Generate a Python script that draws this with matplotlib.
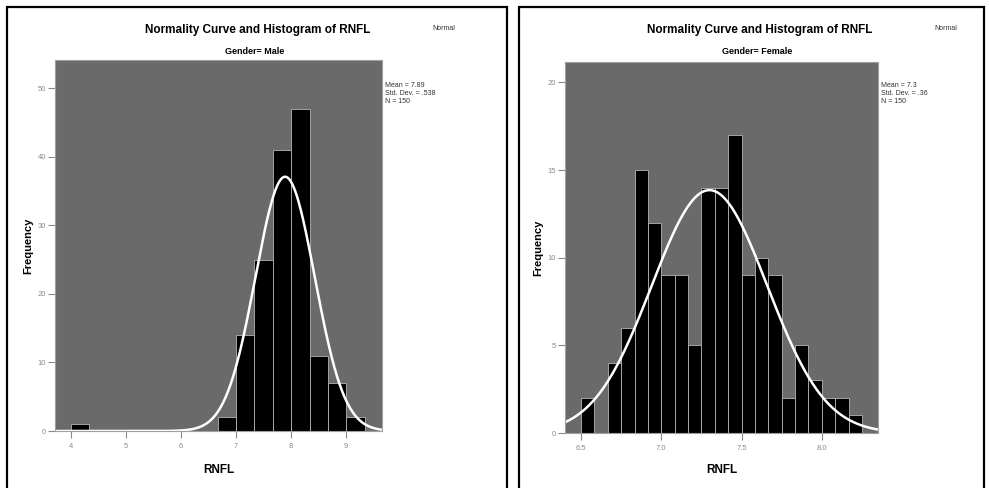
import numpy as np
import matplotlib
matplotlib.use('Agg')
import matplotlib.pyplot as plt
from matplotlib.patches import Rectangle

plt.rcParams['font.family'] = ['Liberation Sans', 'DejaVu Sans']

# Male group: bins of width 1/3 starting at 4.0
male_start = 4.0
male_width = 1 / 3
male_counts = [1, 0, 0, 0, 0, 0, 0, 0, 2, 14, 25, 41, 47, 11, 7, 2]
male_mean, male_sd, male_n = 7.89, 0.538, 150
male_xticks = [4, 5, 6, 7, 8, 9]
male_xticklabels = ['4', '5', '6', '7', '8', '9']
male_yticks = [0, 10, 20, 30, 40, 50]

# Female group: bins of width 1/12 starting at 6.5
female_start = 6.5
female_width = 1 / 12
female_counts = [2, 0, 4, 6, 15, 12, 9, 9, 5, 14, 14, 17, 9, 10, 9, 2, 5, 3, 2, 2, 1]
female_mean, female_sd, female_n = 7.3, 0.36, 150
female_xticks = [6.5, 7.0, 7.5, 8.0]
female_xticklabels = ['6.5', '7.0', '7.5', '8.0']
female_yticks = [0, 5, 10, 15, 20]

BG = '#6a6a6a'
TICK = '#8a8a8a'
W, H = 989, 488

fig = plt.figure(figsize=(9.89, 4.88), dpi=100)


def panel(box, start, width, counts, mean, sd, n, xlim, ylim,
          xticks, xticklabels, yticks, gender, stats, cx, frame, ylab_x):
    # box is (left, top, right, bottom) in pixels
    l, t, r, b = box
    # frame around the panel
    fig.patches.append(Rectangle((frame[0] / W, -0.05), (frame[1] - frame[0]) / W,
                                 1.05 - 7 / H, transform=fig.transFigure,
                                 fill=False, ec='black', lw=1.6, clip_on=False))
    ax = fig.add_axes([l / W, 1 - b / H, (r - l) / W, (b - t) / H])
    ax.set_facecolor(BG)
    counts = np.array(counts)
    lefts = start + width * np.arange(len(counts))
    keep = counts > 0
    ax.bar(lefts[keep], counts[keep], width=width, align='edge',
           color='black', edgecolor='#b4b4b4', linewidth=0.6)
    xs = np.linspace(xlim[0], xlim[1], 400)
    ys = n * width * np.exp(-0.5 * ((xs - mean) / sd) ** 2) / (sd * np.sqrt(2 * np.pi))
    ax.plot(xs, ys, color='white', lw=1.8)
    ax.set_xlim(xlim)
    ax.set_ylim(ylim)
    ax.set_xticks(xticks)
    ax.set_xticklabels(xticklabels)
    ax.set_yticks(yticks)
    ax.tick_params(colors=TICK, labelsize=5.5, length=5, width=0.8)
    ax.tick_params(axis='y', pad=1.5)
    for s in ax.spines.values():
        s.set_color('#a0a0a0')
        s.set_linewidth(0.8)
    ax.set_ylabel('Frequency', fontsize=8, fontweight='bold')
    ax.yaxis.set_label_coords((ylab_x - l) / (r - l), 0.5)
    ax.set_xlabel('RNFL', fontsize=8.5, fontweight='bold')
    ax.xaxis.set_label_coords(0.5, (b - 470) / (b - t))
    ax.xaxis.label.set_va('center')
    ax.yaxis.label.set_va('center')

    fig.text(cx / W, 1 - 30 / H, 'Normality Curve and Histogram of RNFL',
             ha='center', va='center', fontsize=8.5, fontweight='bold')
    fig.text((cx - 3) / W, 1 - 52 / H, 'Gender= ' + gender,
             ha='center', va='center', fontsize=6.5, fontweight='bold')
    fig.text((cx + 186) / W, 1 - 28 / H, 'Normal', ha='center', va='center',
             fontsize=5, color='#333333')
    fig.text((r + 3) / W, 1 - 82 / H, stats, ha='left', va='top',
             fontsize=5, color='#333333', linespacing=1.2)
    return ax


panel((55, 60, 382, 431),
      male_start, male_width, male_counts, male_mean, male_sd, male_n,
      (3.71, 9.65), (0, 54.1), male_xticks, male_xticklabels, male_yticks,
      'Male', 'Mean = 7.89\nStd. Dev. = .538\nN = 150', 258, (7, 507), 28)

panel((565, 62, 878, 433),
      female_start, female_width, female_counts, female_mean, female_sd, female_n,
      (6.40, 8.35), (0, 21.16), female_xticks, female_xticklabels, female_yticks,
      'Female', 'Mean = 7.3\nStd. Dev. = .36\nN = 150', 760, (519, 984), 538)

fig.savefig('out.png', dpi=100)
